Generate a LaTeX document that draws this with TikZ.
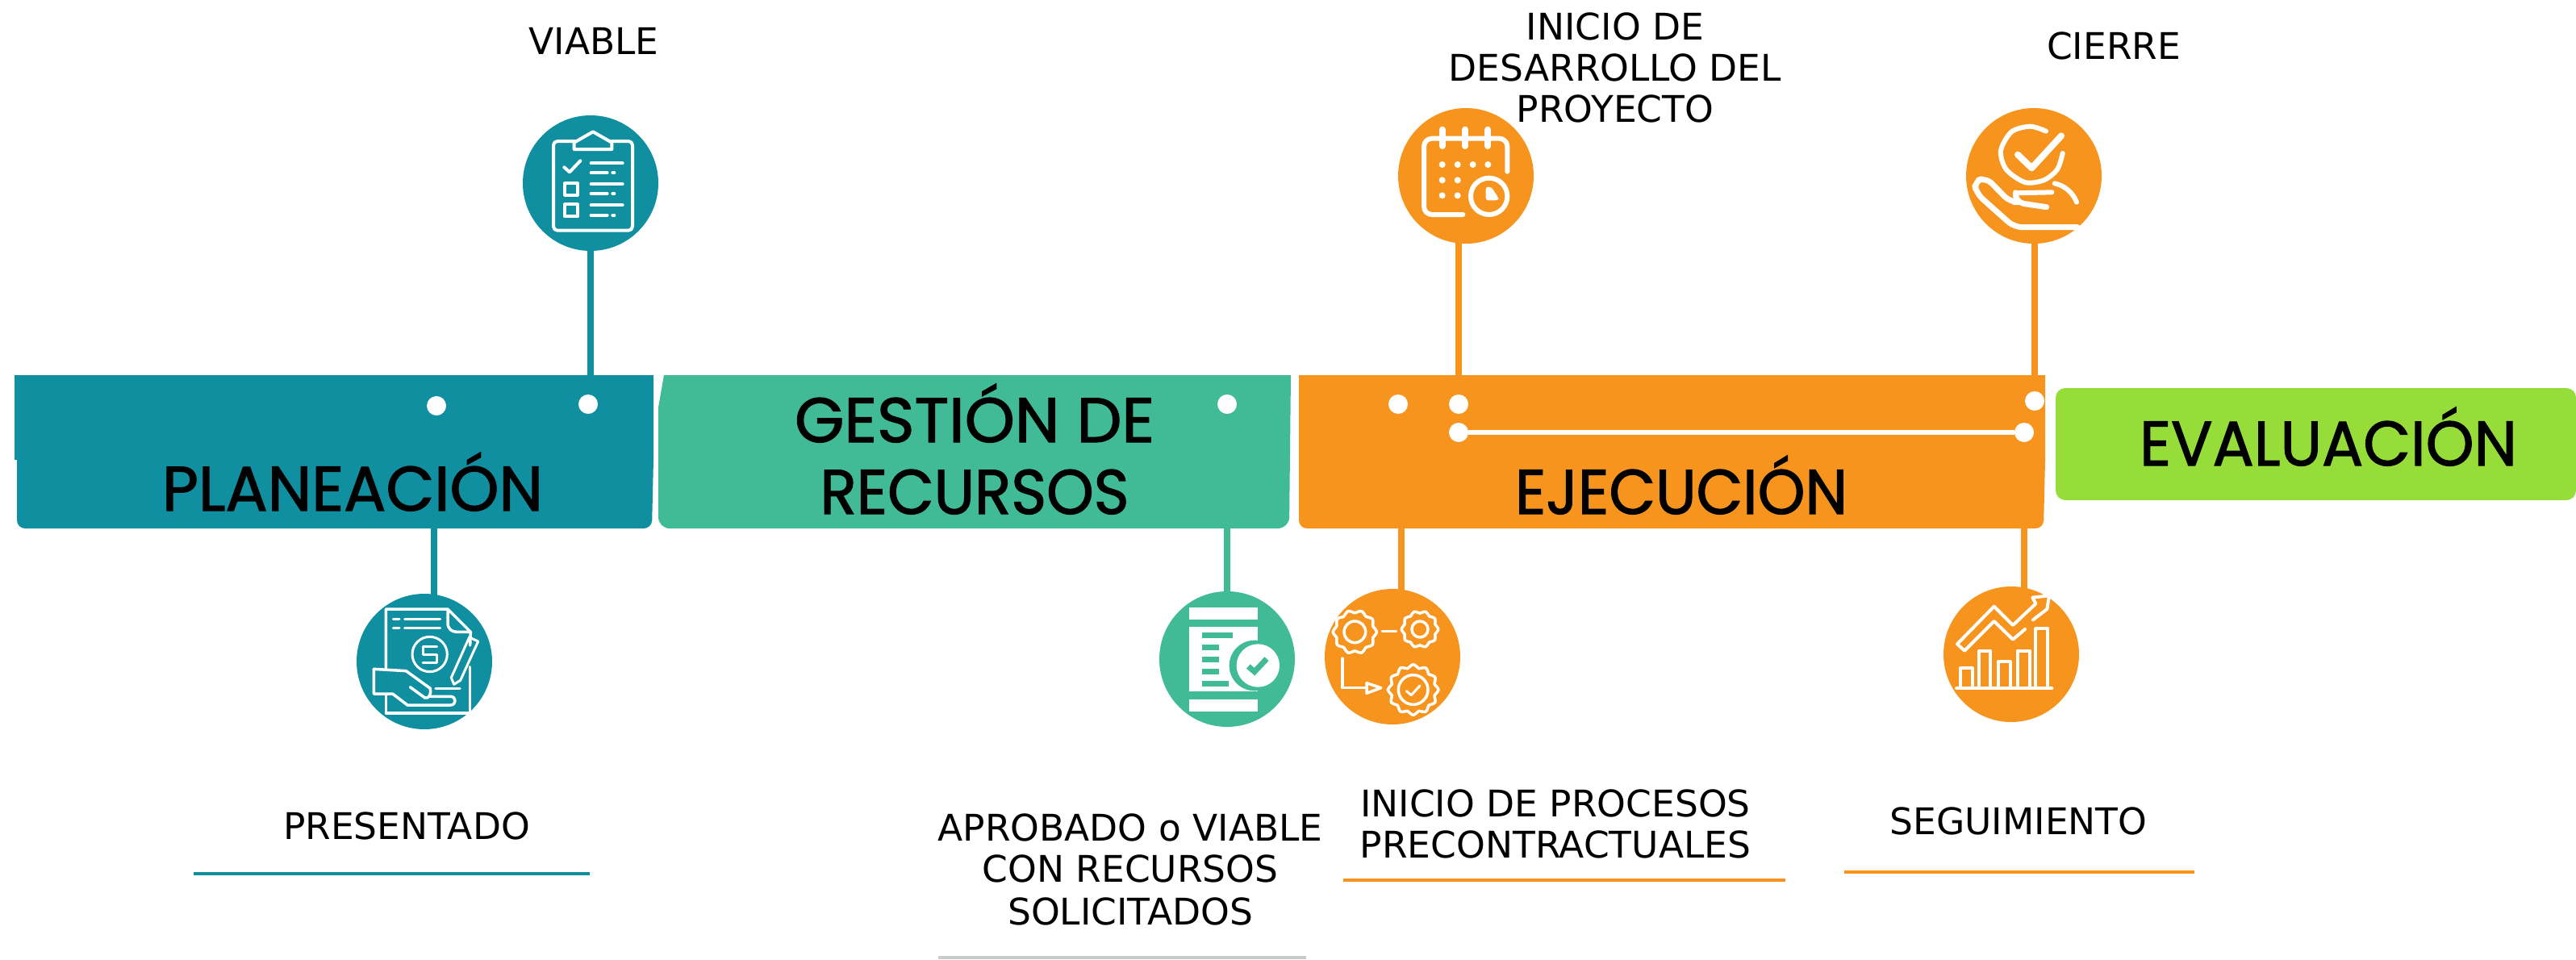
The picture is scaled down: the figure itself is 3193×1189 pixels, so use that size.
\documentclass[tikz,border=0pt]{standalone}
\usepackage{fontspec}
\usepackage{graphicx}
\usetikzlibrary{backgrounds}
\setmainfont{DejaVu Sans}
\newfontfamily\headfont{Poppins}[FakeBold=1.6]
\definecolor{cteal}{HTML}{0F8F9F}
\definecolor{cgreen}{HTML}{41BB95}
\definecolor{corange}{HTML}{F7941D}
\definecolor{clime}{HTML}{96DD3A}
\definecolor{cgrey}{HTML}{C8CCCC}
\newcommand{\hd}[2]{\resizebox{#1pt}{\height}{\headfont\fontsize{78}{78}\selectfont #2}}
\newcommand{\gearpath}[4]{plot[smooth cycle,samples=#4*4,domain=0:360-360/(#4*4)] ({#1+(#3+#3*0.07*cos(#4*\x))*cos(\x)},{#2+(#3+#3*0.07*cos(#4*\x))*sin(\x)})}
\tikzset{
  disc/.style={circle,minimum size=168pt,inner sep=0pt,fill=#1},
  pin/.style={circle,minimum size=24pt,inner sep=0pt,fill=white},
  stem/.style={draw=#1,line width=8pt},
  lab/.style={font=\fontsize{45.5}{51}\selectfont,text=black,align=center,anchor=base,inner sep=0pt},
  head/.style={text=black,anchor=base,inner sep=0pt},
  rule/.style={draw=#1,line width=3.5pt},
  ico/.style={draw=white,line width=4pt,line join=round,line cap=round},
  icoh/.style={draw=white,line width=6pt,line join=round,line cap=round},
  icof/.style={fill=white,draw=none},
}
\begin{document}
\begin{tikzpicture}[x=1pt,y=-1pt]
\useasboundingbox (0,0) rectangle (3193,1189);
% bars
\fill[cteal] (18,465) -- (810,465) -- (810,570) [rounded corners=10pt] -- (808,655) -- (21,655) [sharp corners] -- (21,570) -- (18,570) -- cycle;
\fill[cgreen] (823,465) -- (1600,465) [rounded corners=14pt] -- (1598,655) -- (816,655) [sharp corners] -- (816,505) -- cycle;
\fill[corange] (1610,465) -- (2535,465) -- (2535,570) [rounded corners=10pt] -- (2533,655) -- (1610,655) [sharp corners] -- cycle;
\fill[clime,rounded corners=12pt] (2548,481) rectangle (3193,620);
% circles
\node[disc=cteal] (cV) at (732,227) {};
\node[disc=cteal] (cP) at (526,820) {};
\node[disc=cgreen] (cG) at (1521,817) {};
\node[disc=corange] (cE) at (1726,814) {};
\node[disc=corange] (cC) at (1817,218) {};
\node[disc=corange] (cH) at (2521,218) {};
\node[disc=corange] (cS) at (2493,811) {};
% pins
\node[pin] (dP) at (541,503) {};
\node[pin] (dV) at (729,501) {};
\node[pin] (dG) at (1521,501) {};
\node[pin] (dE) at (1733,501) {};
\node[pin] (dC) at (1808,501) {};
\node[pin] (dH) at (2522,497) {};
\node[pin] (dL) at (1808,536) {};
\node[pin] (dS) at (2509,536) {};
\draw[white,line width=6pt] (dL) -- (dS);
% connectors
\begin{scope}[on background layer]
\draw[stem=cteal] ([xshift=-3pt]dP.center) -- ([xshift=-3pt]dP.center |- cP.center);
\draw[stem=cteal] ([xshift=3pt]dV.center) -- ([xshift=3pt]dV.center |- cV.center);
\draw[stem=cgreen] (dG.center) -- (dG.center |- cG.center);
\draw[stem=corange] ([xshift=4pt]dE.center) -- ([xshift=4pt]dE.center |- cE.center);
\draw[stem=corange] (dC.center) -- (dC.center |- cC.center);
\draw[stem=corange] (dH.center) -- (dH.center |- cH.center);
\draw[stem=corange] (dS.center) -- (dS.center |- cS.center);
\end{scope}
% headings
\node[head] (hP) at (437,633) {\hd{472}{PLANEACIÓN}};
\node[head] (hG1) at (1208,548) {\hd{446}{GESTIÓN DE}};
\node[head] (hG2) at (1208,637) {\hd{383}{RECURSOS}};
\node[head] (hE) at (2084,637) {\hd{412}{EJECUCIÓN}};
\node[head] (hV) at (2886,577) {\hd{468}{EVALUACIÓN}};
% labels
\node[lab] (tV) at (736,67) {VIABLE};
\node[lab] (tC) at (2002,151) {INICIO DE\\DESARROLLO DEL\\PROYECTO};
\node[lab] (tH) at (2620,73) {CIERRE};
\node[lab] (tP) at (504,1040) {PRESENTADO};
\node[lab] (tG) at (1401,1146) {APROBADO o VIABLE\\CON RECURSOS\\[2pt]SOLICITADOS};
\node[lab] (tE) at (1928,1063) {INICIO DE PROCESOS\\PRECONTRACTUALES};
\node[lab] (tS) at (2502,1034) {SEGUIMIENTO};
% rules
\coordinate (r1a) at (240,1083); \coordinate (r1b) at (731,1083);
\coordinate (r2a) at (1163,1187); \coordinate (r2b) at (1619,1187);
\coordinate (r3a) at (1665,1091); \coordinate (r3b) at (2213,1091);
\coordinate (r4a) at (2286,1081); \coordinate (r4b) at (2720,1081);
\draw[rule=cteal] (r1a) -- (r1b);
\draw[rule=cgrey] (r2a) -- (r2b);
\draw[rule=corange] (r3a) -- (r3b);
\draw[rule=corange] (r4a) -- (r4b);
% icon clipboard
\begin{scope}[shift={(600,120)},scale=1/3]
\draw[ico,rounded corners=5pt] (258,165) rectangle (552,497);
\draw[ico,fill=cteal] (335,195) -- (335,170) -- (405,130) -- (475,170) -- (475,195) -- cycle;
\draw[ico] (298,262) -- (318,280) -- (358,238);
\foreach \y in {247,325,403} \draw[ico] (398,\y) -- (515,\y);
\foreach \y in {283,360,440} {\draw[ico] (398,\y) -- (458,\y); \draw[ico] (478,\y) -- (484,\y);}
\draw[ico] (300,322) rectangle (348,365);
\draw[ico] (300,400) rectangle (348,445);
\end{scope}
% icon document and hand
\begin{scope}[shift={(400,700)},scale=1/3]
\draw[ico,line width=3.5pt] (235,385) -- (235,165) -- (465,165) -- (550,250) -- (548,300);
\draw[ico,line width=3.5pt] (548,380) -- (548,552) -- (235,552) -- (235,482);
\draw[ico,line width=3.5pt] (465,170) -- (465,215) .. controls (465,240) and (480,250) .. (500,250) -- (550,250);
\foreach \y in {203,235} {\draw[ico,line width=3pt] (262,\y) -- (285,\y); \draw[ico,line width=3pt] (305,\y) -- (437,\y);}
\draw[ico,line width=3pt] (398,333) circle[radius=65];
\draw[ico,line width=3pt] (425,303) -- (372,303) -- (372,333) -- (425,333) -- (425,365) -- (372,365);
\draw[ico,line width=3pt] (488,445) -- (478,420) -- (545,270) -- (578,285) -- (512,430) -- cycle;
\draw[ico,line width=3.5pt] (190,388) -- (310,395) -- (400,460) .. controls (405,480) and (395,500) .. (380,495) -- (325,455);
\draw[ico,line width=3.5pt] (190,388) -- (190,480) -- (260,480) -- (315,522) -- (475,522) .. controls (498,522) and (498,490) .. (475,490) -- (400,490);
\draw[ico,line width=3.5pt] (420,460) -- (510,460);
\end{scope}
% icon green document
\begin{scope}[shift={(1400,700)},scale=1/3]
\fill[white] (222,160) rectangle (478,205);
\fill[white] (222,500) rectangle (478,545);
\fill[white] (222,230) rectangle (478,472);
\foreach \a/\b/\c in {270/385/252,270/333/298,270/333/343,270/333/388,270/370/432} \fill[cgreen] (\a,\c) rectangle (\b,\c+20);
\fill[cgreen] (465,375) circle[radius=94];
\fill[white] (478,375) circle[radius=80];
\draw[cgreen,line width=7pt] (442,378) -- (465,398) -- (510,350);
% gears
\draw[ico,line width=3.5pt] \gearpath{838}{250}{76}{10};
\draw[ico,line width=3.5pt] (838,250) circle[radius=40];
\draw[ico,line width=3.5pt] \gearpath{1080}{240}{64}{10};
\draw[ico,line width=3.5pt] (1080,240) circle[radius=30];
\draw[ico,line width=3.5pt] \gearpath{1055}{465}{88}{12};
\draw[ico,line width=3.5pt] (1055,465) circle[radius=55];
\draw[ico,line width=3.5pt] (940,248) -- (992,248);
\draw[ico,line width=3.5pt] (792,348) -- (792,458) -- (880,458);
\draw[ico,line width=3.5pt] (882,440) -- (935,458) -- (882,478) -- cycle;
\draw[ico,line width=3pt] (1030,470) -- (1048,485) -- (1080,450);
\end{scope}
% icon calendar
\begin{scope}[shift={(1700,120)},scale=1/3]
\draw[icoh,rounded corners=10pt] (505,278) -- (505,155) -- (195,155) -- (195,438) -- (340,438);
\foreach \x in {263,348,433} \draw[icoh,line width=8pt] (\x,122) -- (\x,183);
\foreach \x/\y in {263/252,320/252,377/252,433/252,263/310,320/310,263/367,320/367} \fill[white] (\x,\y) circle[radius=12];
\draw[icoh,fill=corange] (437,370) circle[radius=68];
\fill[white,rounded corners=3pt] (425,335) -- (445,335) -- (472,375) -- (472,385) -- (425,385) -- cycle;
\end{scope}
% icon hand and check
\begin{scope}[shift={(2400,120)},scale=1/3]
\draw[icoh] plot[smooth] coordinates {(408,128) (350,110) (280,130) (240,200) (260,270) (330,318) (400,310) (450,270) (470,210)};
\draw[icoh,line width=8pt] (303,215) -- (355,265) -- (465,145);
\draw[icoh] (440,322) .. controls (480,330) and (510,360) .. (522,392);
\draw[icoh] (295,358) -- (430,355);
\draw[icoh,line width=7pt,rounded corners=12pt] (295,358) -- (290,392) -- (410,410);
\draw[icoh,line width=7pt,rounded corners=10pt] (290,392) -- (275,392) -- (185,300) -- (140,315) -- (150,360) -- (290,485) -- (525,485);
\end{scope}
% icon chart
\begin{scope}[shift={(2380,700)},scale=1/3]
\draw[ico] (135,460) -- (490,460);
\foreach \a/\b/\c in {150/195/385,220/262/320,290/335/360,362/408/320,430/475/238}
  \draw[ico] (\a,456) -- (\a,\c) -- (\b,\c) -- (\b,456);
\draw[ico] (420,205) -- (472,165) -- (480,115) -- (418,122) -- (430,145) -- (345,225) -- (275,155) -- (138,295) -- (165,320) -- (275,210) -- (345,278) -- (390,240);
\end{scope}
\end{tikzpicture}
\end{document}
